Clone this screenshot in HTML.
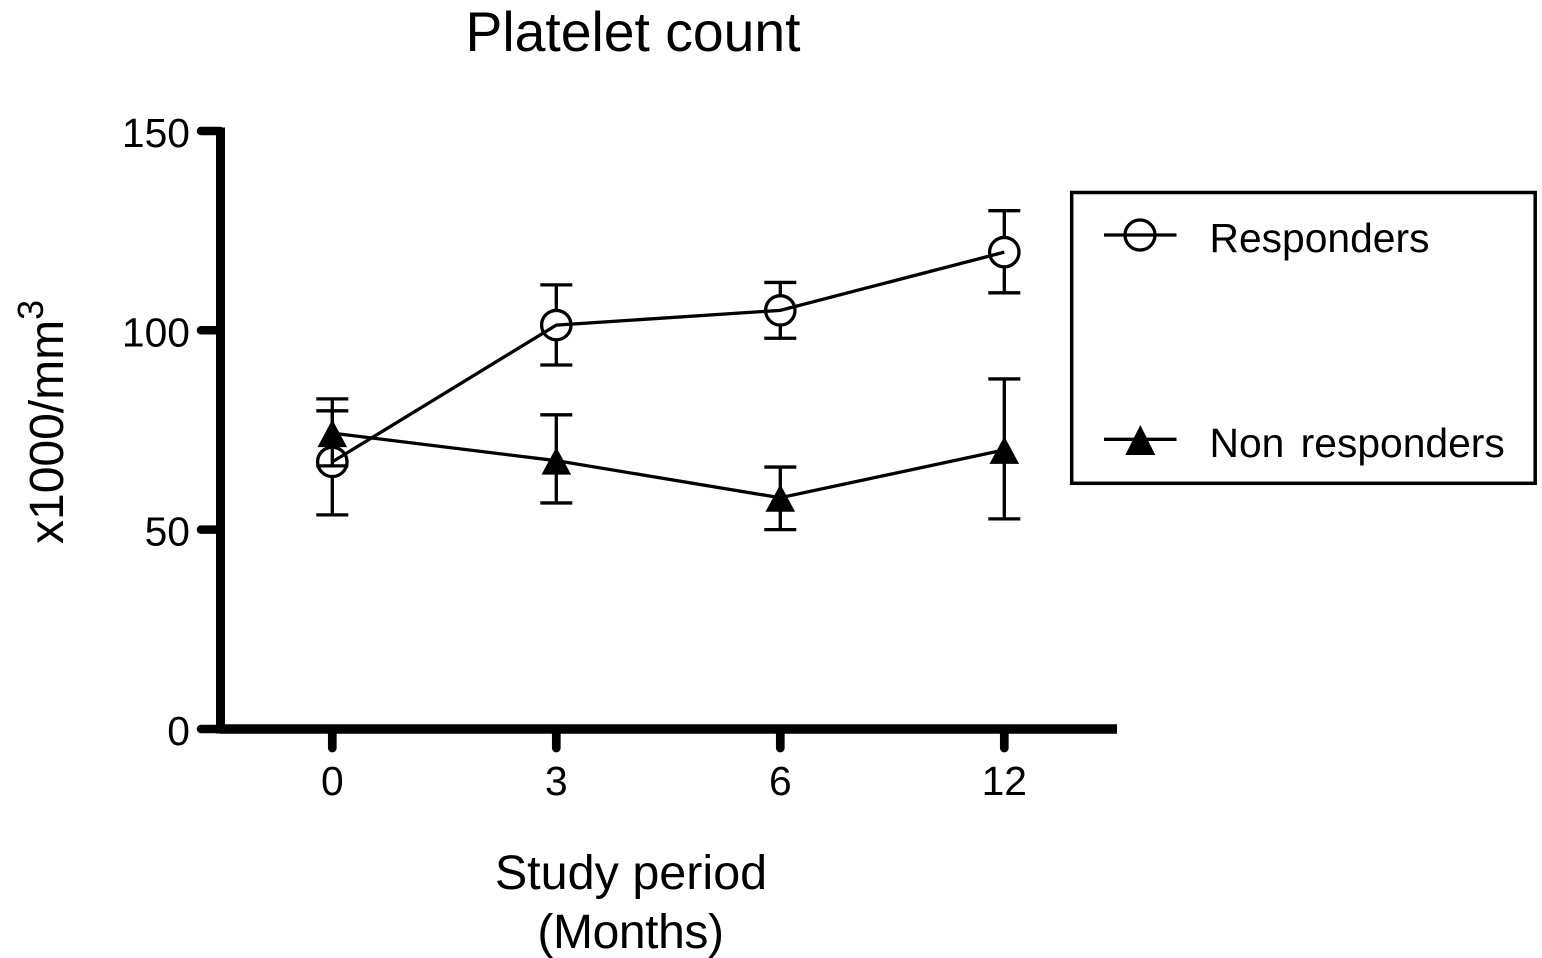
<!DOCTYPE html>
<html>
<head>
<meta charset="utf-8">
<title>Platelet count</title>
<style>
html,body{margin:0;padding:0;background:#fff;width:1542px;height:958px;overflow:hidden}
svg{display:block}
text{font-family:"Liberation Sans",sans-serif;fill:#000}
</style>
</head>
<body>
<svg id="chart" width="1542" height="958" viewBox="0 0 1542 958" xmlns="http://www.w3.org/2000/svg">
  <text x="633" y="51" font-size="55.3" text-anchor="middle">Platelet count</text>
  <text x="631" y="889" font-size="48.5" text-anchor="middle">Study period</text>
  <text x="630.5" y="948" font-size="48" letter-spacing="-0.4" text-anchor="middle">(Months)</text>
  <text transform="translate(63,544) rotate(-90)" font-size="48">x1000/mm<tspan font-size="36" dy="-20">3</tspan></text>
  <g id="axes"></g>
  <g id="series"></g>
  <g id="legend">
    <rect x="1071.7" y="192.5" width="463.5" height="290.8" fill="#fff" stroke="#000" stroke-width="3.5"/>
    <line x1="1104" y1="235" x2="1176.5" y2="235" stroke="#000" stroke-width="3.3"/>
    <circle cx="1140" cy="235" r="15" fill="none" stroke="#000" stroke-width="3.3"/>
    <text x="1209.5" y="252" font-size="40.8">Responders</text>
    <line x1="1104" y1="439.3" x2="1176.5" y2="439.3" stroke="#000" stroke-width="3.3"/>
    <polygon points="1140.3,425 1155.3,455 1125.3,455" fill="#000"/>
    <text x="1209.5" y="457" font-size="40.8" word-spacing="5">Non responders</text>
  </g>
</svg>
<script>
const categories = ["0", "3", "6", "12"];
const yTicks = [0, 50, 100, 150];
const respondersMean = [67, 101.3, 105, 119.6];
const respondersHigh = [79.8, 111.4, 112, 130];
const respondersLow = [53.7, 91.3, 98, 109.4];
const nonRespondersMean = [74.2, 67.3, 58, 70];
const nonRespondersHigh = [82.8, 78.8, 65.7, 87.8];
const nonRespondersLow = [66, 56.7, 50, 52.7];

const NS = "http://www.w3.org/2000/svg";
const xScale = i => 332.3 + i * 224;
const yScale = v => 729 - v * 3.987;

function make(parent, tag, attrs, text) {
  const el = document.createElementNS(NS, tag);
  for (const k in attrs) el.setAttribute(k, attrs[k]);
  if (text !== undefined) el.textContent = text;
  parent.appendChild(el);
  return el;
}

const axes = document.getElementById("axes");
const seriesLayer = document.getElementById("series");

const yAxis = make(axes, "line", {x1: 220.5, y1: yScale(150) - 3.5, x2: 220.5, y2: yScale(0) + 4.5, stroke: "#000", "stroke-width": 9});



const xAxis = make(axes, "line", {x1: 220, y1: yScale(0), x2: 1117, y2: yScale(0), stroke: "#000", "stroke-width": 9.5});



yTicks.forEach(t => {
  const tick = make(axes, "line", {x1: 201, y1: yScale(t), x2: 220, y2: yScale(t), stroke: "#000", "stroke-width": 8.5, "stroke-linecap": "round"});
  
  
  const label = make(axes, "text", {x: 190, y: yScale(t) + 16, "font-size": 40.8, "text-anchor": "end"}, String(t));
  
  
});

categories.forEach((c, i) => {
  const tick = make(axes, "line", {x1: xScale(i), y1: yScale(0), x2: xScale(i), y2: 748, stroke: "#000", "stroke-width": 8.7, "stroke-linecap": "round"});
  
  
  const label = make(axes, "text", {x: xScale(i), y: 795, "font-size": 40.8, "text-anchor": "middle"}, c);
  
  
});

function drawSeries(key, means, highs, lows, marker) {
  const g = make(seriesLayer, "g", {});
  
  

  means.forEach((m, i) => {
    const x = xScale(i);
    const whisker = make(g, "path", {
      d: "M" + (x - 16) + " " + yScale(highs[i]) + "H" + (x + 16) +
         "M" + x + " " + yScale(highs[i]) + "V" + yScale(lows[i]) +
         "M" + (x - 16) + " " + yScale(lows[i]) + "H" + (x + 16),
      fill: "none", stroke: "#000", "stroke-width": 3.3
    });
    
    
  });

  const marks = [];
  means.forEach((m, i) => {
    const x = xScale(i), y = yScale(m);
    let mark;
    if (marker === "circle") {
      mark = make(g, "circle", {cx: x, cy: y, r: 14.7, fill: "#fff", stroke: "#000", "stroke-width": 3.3});
    } else {
      mark = make(g, "polygon", {points: x + "," + (y - 13.5) + " " + (x + 14.8) + "," + (y + 14) + " " + (x - 14.8) + "," + (y + 14), fill: "#000"});
    }
    
    
    marks.push(mark);
  });

  const pts = means.map((m, i) => xScale(i) + "," + yScale(m)).join(" ");
  const line = make(g, "polyline", {points: pts, fill: "none", stroke: "#000", "stroke-width": 3.3});
  
  
}

drawSeries("responders", respondersMean, respondersHigh, respondersLow, "circle");
drawSeries("non-responders", nonRespondersMean, nonRespondersHigh, nonRespondersLow, "triangle");
</script>
</body>
</html>
